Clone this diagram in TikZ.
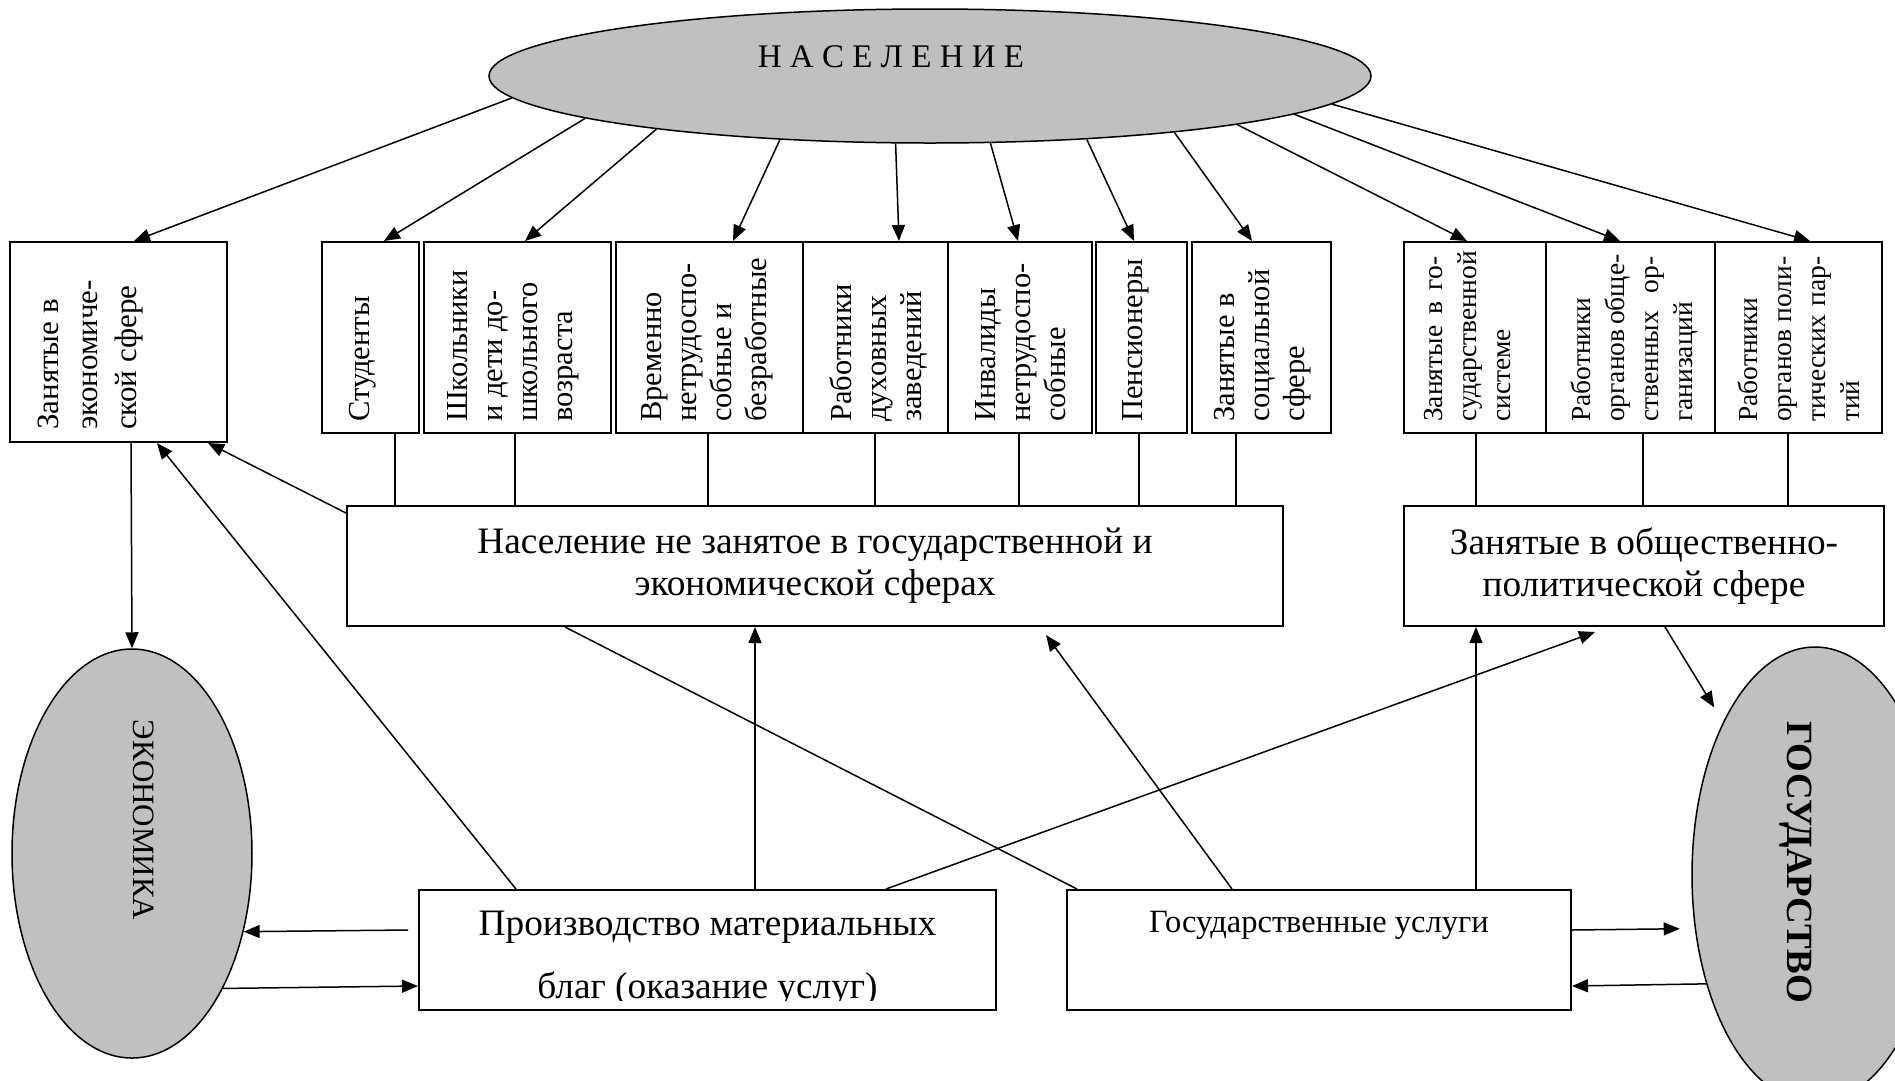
\documentclass[tikz,border=0pt]{standalone}
\usepackage{fontspec}
\setmainfont{Liberation Serif}
\usetikzlibrary{arrows.meta,shapes.geometric}
\definecolor{ovalgray}{RGB}{192,192,192}
\begin{document}
\begin{tikzpicture}[x=1pt,y=-1pt,
  bx/.style={draw,line width=2pt,rectangle,inner sep=0pt},
  oval/.style={draw,line width=1.5pt,ellipse,fill=ovalgray,inner sep=0pt},
  con/.style={line width=1.5pt},
  arr/.style={line width=1.5pt,-{Triangle[length=16pt,width=13pt]}},
  vt/.style={rotate=90,anchor=north west,align=left,inner sep=0pt,font=\fontsize{30.5}{35}\selectfont},
  vtr/.style={vt,font=\fontsize{27.5}{34}\selectfont},
  vte/.style={vt,font=\fontsize{31}{39}\selectfont},
  bigt/.style={font=\fontsize{37.3}{42}\selectfont},
]
\useasboundingbox (0,0) rectangle (1895,1080);
\clip (0,0) rectangle (1895,1080);

% top row boxes
\node[bx,minimum width=217pt,minimum height=200pt] (econ) at (118.5,342) {};
\node[bx,minimum width=97pt,minimum height=191pt] (stud) at (370.5,337.5) {};
\node[bx,minimum width=187pt,minimum height=191pt] (shk) at (517.5,337.5) {};
\node[bx,minimum width=187pt,minimum height=191pt] (vrem) at (709.5,337.5) {};
\node[bx,minimum width=145pt,minimum height=191pt] (rab) at (875.5,337.5) {};
\node[bx,minimum width=144pt,minimum height=191pt] (inv) at (1020,337.5) {};
\node[bx,minimum width=91pt,minimum height=191pt] (pens) at (1141.5,337.5) {};
\node[bx,minimum width=139pt,minimum height=191pt] (soc) at (1261.5,337.5) {};
\node[bx,minimum width=142pt,minimum height=191pt] (gos) at (1475,337.5) {};
\node[bx,minimum width=169pt,minimum height=191pt] (obsh) at (1630.5,337.5) {};
\node[bx,minimum width=167pt,minimum height=191pt] (pol) at (1798.5,337.5) {};

% vertical texts
\node[vte] (econt) at (38,430) {Занятые в\\экономиче-\\ской сфере};
\node[vt] (studt) at (349,422) {Студенты};
\node[vt] (shkt) at (447,422) {Школьники\\и дети до-\\школьного\\возраста};
\node[vt] (vremt) at (641,422) {Временно\\нетрудоспо-\\собные и\\безработные};
\node[vt] (rabt) at (829,422) {Работники\\духовных\\заведений};
\node[vt] (invt) at (975,422) {Инвалиды\\нетрудоспо-\\собные};
\node[vt] (penst) at (1122,422) {Пенсионеры};
\node[vt] (soct) at (1214,422) {Занятые в\\социальной\\сфере};
\node[vtr] (gost) at (1424,422) {\makebox[165pt][s]{Занятые в го-}\\сударственной\\системе};
\node[vtr] (obsht) at (1571,422) {Работники\\\makebox[165pt][s]{органов обще-}\\\makebox[165pt][s]{ственных ор-}\\ганизаций};
\node[vtr] (polt) at (1738,422) {Работники\\\makebox[165pt][s]{органов поли-}\\\makebox[165pt][s]{тических пар-}\\тий};

% middle boxes
\node[bx,bigt,align=center,minimum width=936pt,minimum height=120pt] (mid) at (815,566) {Население не занятое в государственной и\\экономической сферах};
\node[bx,bigt,align=center,minimum width=480pt,minimum height=120pt] (mpol) at (1644,566) {Занятые в общественно-\\политической сфере};

% bottom boxes
\node[bx,minimum width=577pt,minimum height=120pt] (prod) at (707.5,950) {};
\node[bigt,anchor=base,inner sep=0pt] (prodt1) at (707.5,935) {Производство материальных};
\begin{scope}
\clip (419,890) rectangle (996,1000);
\node[bigt,anchor=base,inner sep=0pt] (prodt2) at (707.5,998) {благ (оказание услуг)};
\end{scope}
\node[bx,minimum width=504pt,minimum height=120pt] (gusl) at (1319,950) {};
\node[font=\fontsize{32.5}{38}\selectfont,anchor=base,inner sep=0pt] (guslt) at (1319,932) {Государственные услуги};

% ovals
\node[oval,minimum width=882pt,minimum height=134pt] (pop) at (930,76) {};
\node[font=\fontsize{33}{40}\selectfont] (popt) at (891,57) {Н А С Е Л Е Н И Е};
\node[oval,minimum width=240pt,minimum height=409pt] (econE) at (132,853.5) {};
\node[rotate=-90,font=\fontsize{31}{37}\selectfont] (econEt) at (144,820) {ЭКОНОМИКА};
\node[oval,minimum width=246pt,minimum height=456pt] (stateE) at (1815,875) {};
\node[rotate=-90,font=\bfseries\fontsize{37}{44}\selectfont,text depth=0pt] (stateEt) at (1800,862) {ГОСУДАРСТВО};

% arrows from population
\draw[arr] (pop.183.0) -- ([xshift=15.5pt]econ.north);
\draw[arr] (pop.187.24) -- ([xshift=13.5pt]stud.north);
\draw[arr] (pop.191.87) -- ([xshift=7.5pt]shk.north);
\draw[arr] (pop.203.0) -- ([xshift=23.5pt]vrem.north);
\draw[arr] (pop.243.7) -- ([xshift=23.5pt]rab.north);
\draw[arr] (pop.312.8) -- ([xshift=-2pt]inv.north);
\draw[arr] (pop.338.5) -- ([xshift=-7.5pt]pens.north);
\draw[arr] (pop.347.0) -- ([xshift=-9.5pt]soc.north);
\draw[arr] (pop.351.45) -- ([xshift=-8pt]gos.north);
\draw[arr] (pop.354.3) -- ([xshift=-10.5pt]obsh.north);
\draw[arr] (pop.356.9) -- ([xshift=11.5pt]pol.north);

% row boxes to middle boxes
\draw[con] ([xshift=24.5pt]stud.south) -- +(0,73);
\draw[con] ([xshift=-2.5pt]shk.south) -- +(0,73);
\draw[con] ([xshift=-1.5pt]vrem.south) -- +(0,73);
\draw[con] ([xshift=-0.5pt]rab.south) -- +(0,73);
\draw[con] ([xshift=-1pt]inv.south) -- +(0,73);
\draw[con] ([xshift=-2.5pt]pens.south) -- +(0,73);
\draw[con] ([xshift=-25.5pt]soc.south) -- +(0,73);
\draw[con] ([xshift=1pt]gos.south) -- +(0,73);
\draw[con] ([xshift=12.5pt]obsh.south) -- +(0,73);
\draw[con] ([xshift=-10.5pt]pol.south) -- +(0,73);

% other connectors
\draw[arr] ([yshift=-8pt]mid.north west) -- ([xshift=89.5pt]econ.south);
\draw[arr] ([xshift=-191.5pt]prod.north) -- ([xshift=38.5pt]econ.south);
\draw[arr] ([xshift=12.5pt]econ.south) -- (econE.north);
\draw[arr] ([xshift=-10pt,yshift=20pt]prod.west) -- (econE.325.25);
\draw[arr] (econE.304.47) -- ([yshift=-36pt]prod.west);
\draw[arr] ([xshift=47.5pt]prod.north) -- ([xshift=-60pt]mid.south);
\draw[arr] ([xshift=178.5pt]prod.north) -- ([xshift=-49pt,yshift=-5pt]mpol.south);
\draw[arr] ([xshift=-87pt]gusl.north) -- ([xshift=231pt,yshift=-8pt]mid.south);
\draw[arr] ([xshift=157pt]gusl.north) -- ([xshift=-168pt]mpol.south);
\draw[con] ([xshift=-250pt]mid.south) -- ([xshift=11pt]gusl.north west);
\draw[arr,shorten >=17pt] ([xshift=21pt]mpol.south) -- (stateE.121.6);
\draw[arr,shorten >=15pt] ([yshift=20pt]gusl.east) -- (stateE.204.7);
\draw[arr] (stateE.225.9) -- ([yshift=-36pt]gusl.east);
\end{tikzpicture}
\end{document}
